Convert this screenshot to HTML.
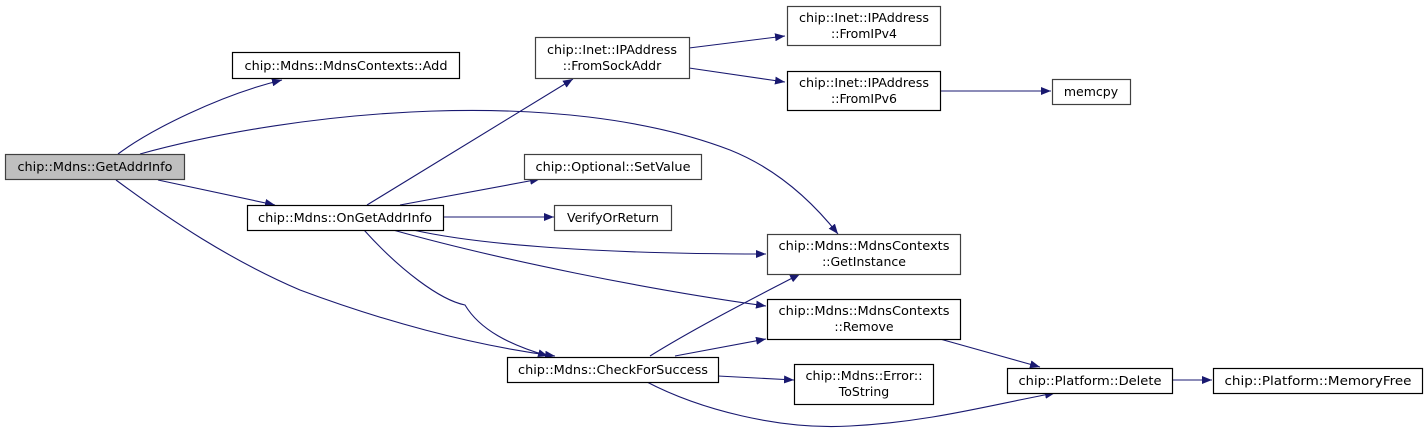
<!DOCTYPE html>
<html><head><meta charset="utf-8"><style>
html,body{margin:0;padding:0;background:#fff;}
svg{display:block;}
text{font-family:"DejaVu Sans","Liberation Sans",sans-serif;font-size:12.5px;fill:#000;}
</style></head><body>
<svg width="1428" height="433" viewBox="0 0 1428 433" xmlns="http://www.w3.org/2000/svg">
<defs>
<marker id="a" markerWidth="10" markerHeight="8" refX="10" refY="4" orient="auto" markerUnits="userSpaceOnUse">
<polygon points="0,0 10,4 0,8" fill="#191970"/>
</marker>
</defs>
<g fill="none" stroke="#191970" stroke-width="1.1" marker-end="url(#a)">
<path d="M118,154 C150,130 220,95 282,80"/>
<path d="M140,154 C300,110 560,85 730,150 C780,170 815,205 838,234"/>
<path d="M158,180 L275,205"/>
<path d="M116,180 C170,220 230,260 300,290 C380,320 470,345 555,356"/>
<path d="M367,205 L573,79"/>
<path d="M400,205 L540,179"/>
<path d="M443,217 L554,217"/>
<path d="M413,230 C480,245 600,254 766,254"/>
<path d="M393,230 C500,260 650,290 766,306"/>
<path d="M364,230 C400,270 440,300 465,305 C480,330 510,345 548,356"/>
<path d="M650,356 C700,325 760,295 800,274"/>
<path d="M675,356 L766,339"/>
<path d="M718,376 L794,380"/>
<path d="M645,381 C700,410 780,430 850,426 C930,422 990,405 1055,393"/>
<path d="M940,339 L1040,367"/>
<path d="M1172,380 L1212,380"/>
<path d="M689,48 L785,36"/>
<path d="M689,68 L785,82"/>
<path d="M940,91 L1051,91"/>
</g>
<g stroke-width="1.2">
<rect x="5.5" y="154.5" width="179" height="25" fill="#bfbfbf" stroke="#404040"/>
<rect x="232.5" y="52.5" width="227" height="26" fill="#fff" stroke="#000"/>
<rect x="535.5" y="37.5" width="154" height="41" fill="#fff" stroke="#404040"/>
<rect x="524.5" y="154.5" width="177" height="25" fill="#fff" stroke="#404040"/>
<rect x="247.5" y="205.5" width="196" height="25" fill="#fff" stroke="#000"/>
<rect x="554.5" y="205.5" width="117" height="25" fill="#fff" stroke="#404040"/>
<rect x="507.5" y="357.5" width="211" height="25" fill="#fff" stroke="#000"/>
<rect x="787.5" y="6.5" width="153" height="39" fill="#fff" stroke="#404040"/>
<rect x="787.5" y="71.5" width="153" height="39" fill="#fff" stroke="#000"/>
<rect x="1052.5" y="79.5" width="78" height="25" fill="#fff" stroke="#404040"/>
<rect x="767.5" y="234.5" width="193" height="40" fill="#fff" stroke="#404040"/>
<rect x="767.5" y="299.5" width="193" height="40" fill="#fff" stroke="#000"/>
<rect x="794.5" y="364.5" width="139" height="40" fill="#fff" stroke="#000"/>
<rect x="1007.5" y="368.5" width="165" height="25" fill="#fff" stroke="#000"/>
<rect x="1213.5" y="368.5" width="209" height="25" fill="#fff" stroke="#000"/>
</g>
<g text-anchor="middle">
<text x="95" y="171" textLength="155" lengthAdjust="spacingAndGlyphs">chip::Mdns::GetAddrInfo</text>
<text x="346" y="70" textLength="203" lengthAdjust="spacingAndGlyphs">chip::Mdns::MdnsContexts::Add</text>
<text x="612" y="54" textLength="130" lengthAdjust="spacingAndGlyphs">chip::Inet::IPAddress</text>
<text x="612" y="70">::FromSockAddr</text>
<text x="613" y="171" textLength="155" lengthAdjust="spacingAndGlyphs">chip::Optional::SetValue</text>
<text x="345" y="222" textLength="174" lengthAdjust="spacingAndGlyphs">chip::Mdns::OnGetAddrInfo</text>
<text x="613" y="222">VerifyOrReturn</text>
<text x="613" y="374" textLength="190" lengthAdjust="spacingAndGlyphs">chip::Mdns::CheckForSuccess</text>
<text x="864" y="22" textLength="130" lengthAdjust="spacingAndGlyphs">chip::Inet::IPAddress</text>
<text x="864" y="38">::FromIPv4</text>
<text x="864" y="87" textLength="130" lengthAdjust="spacingAndGlyphs">chip::Inet::IPAddress</text>
<text x="864" y="103">::FromIPv6</text>
<text x="1091" y="96">memcpy</text>
<text x="864" y="250" textLength="171" lengthAdjust="spacingAndGlyphs">chip::Mdns::MdnsContexts</text>
<text x="864" y="266">::GetInstance</text>
<text x="864" y="315" textLength="171" lengthAdjust="spacingAndGlyphs">chip::Mdns::MdnsContexts</text>
<text x="864" y="331">::Remove</text>
<text x="864" y="380" textLength="117" lengthAdjust="spacingAndGlyphs">chip::Mdns::Error::</text>
<text x="864" y="396">ToString</text>
<text x="1090" y="385" textLength="143" lengthAdjust="spacingAndGlyphs">chip::Platform::Delete</text>
<text x="1318" y="385" textLength="187" lengthAdjust="spacingAndGlyphs">chip::Platform::MemoryFree</text>
</g>
</svg>
</body></html>
